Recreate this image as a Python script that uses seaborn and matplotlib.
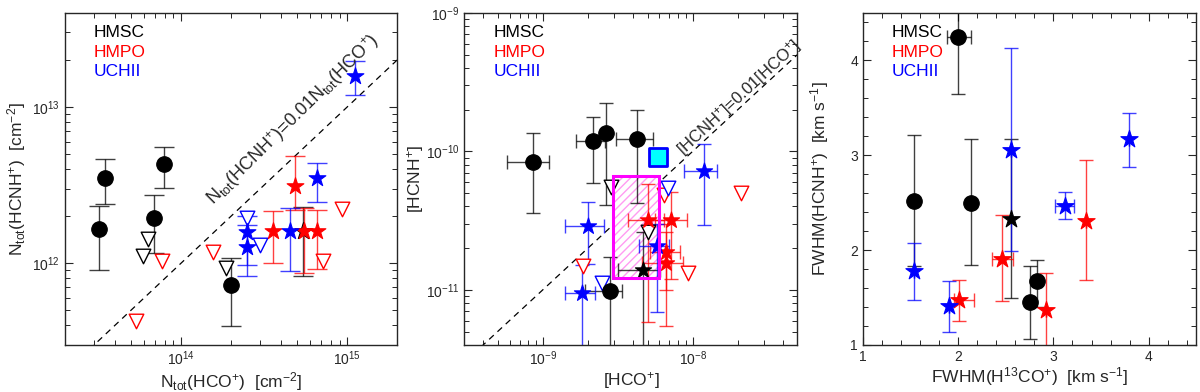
import numpy as np
import pandas as pd
import seaborn as sns
import matplotlib
matplotlib.use('Agg')
import matplotlib.pyplot as plt
from matplotlib.patches import Rectangle
from matplotlib.ticker import MultipleLocator, FixedLocator, NullFormatter

sns.set_style('ticks')
plt.rcParams['font.family'] = ['Liberation Sans', 'DejaVu Sans']
plt.rcParams['mathtext.fontset'] = 'custom'
plt.rcParams['mathtext.rm'] = 'Liberation Sans'
plt.rcParams['mathtext.it'] = 'Liberation Sans:italic'
plt.rcParams['mathtext.default'] = 'regular'

#---------------------------- panel 1 : column densities ----------------------------#
p1_hmsc_x = [3.5e13, 3.2e13, 7.9e13, 6.9e13, 2.0e14]
p1_hmsc_y = [3.5e12, 1.65e12, 4.3e12, 1.96e12, 7.3e11]
p1_hmsc_ylo = [2.38e12, 9.1e11, 3.05e12, 1.17e12, 3.98e11]
p1_hmsc_yhi = [4.67e12, 2.34e12, 5.56e12, 2.75e12, 1.08e12]
p1_hmsc_star_x = [5.4e14]
p1_hmsc_star_y = [1.6e12]
p1_hmsc_star_ylo = [8.3e11]
p1_hmsc_star_yhi = [2.3e12]
p1_hmsc_lim_x = [6.3e13, 5.9e13, 1.87e14]
p1_hmsc_lim_y = [1.42e12, 1.12e12, 9.3e11]

p1_hmpo_x = [4.86e14, 3.6e14, 5.5e14, 6.6e14]
p1_hmpo_y = [3.1e12, 1.6e12, 1.6e12, 1.6e12]
p1_hmpo_ylo = [2.2e12, 1.0e12, 8.6e11, 9.2e11]
p1_hmpo_yhi = [4.87e12, 2.15e12, 2.27e12, 2.2e12]
p1_hmpo_lim_x = [9.3e14, 7.2e14, 7.7e13, 1.56e14, 5.4e13]
p1_hmpo_lim_y = [2.24e12, 1.04e12, 1.03e12, 1.18e12, 4.3e11]

p1_uchii_x = [1.12e15, 6.6e14, 2.5e14, 2.5e14, 4.55e14]
p1_uchii_y = [1.57e13, 3.53e12, 1.58e12, 1.28e12, 1.6e12]
p1_uchii_ylo = [1.19e13, 2.48e12, 9.8e11, 8.3e11, 8.9e11]
p1_uchii_yhi = [1.96e13, 4.4e12, 1.75e12, 2.0e12, 2.27e12]
p1_uchii_lim_x = [2.5e14, 3.0e14]
p1_uchii_lim_y = [1.96e12, 1.3e12]

#---------------------------- panel 2 : abundances ----------------------------#
p2_hmsc_x = [8.6e-10, 2.17e-9, 2.65e-9, 4.27e-9, 2.8e-9]
p2_hmsc_y = [8.35e-11, 1.18e-10, 1.35e-10, 1.22e-10, 9.8e-12]
p2_hmsc_xlo = [5.8e-10, 1.66e-9, 2.65e-9, 3.09e-9, 1.9e-9]
p2_hmsc_xhi = [1.1e-9, 2.6e-9, 2.65e-9, 5.47e-9, 3.4e-9]
p2_hmsc_ylo = [3.6e-11, 5.9e-11, 4.1e-11, 4.26e-11, 3e-12]
p2_hmsc_yhi = [1.35e-10, 1.78e-10, 2.24e-10, 2.0e-10, 1.72e-11]
p2_hmsc_star_x = [4.69e-9]
p2_hmsc_star_y = [1.39e-11]
p2_hmsc_star_xlo = [3.18e-9]
p2_hmsc_star_xhi = [6.1e-9]
p2_hmsc_star_ylo = [3e-12]
p2_hmsc_star_yhi = [2.6e-11]
p2_hmsc_lim_x = [2.86e-9, 5.07e-9]
p2_hmsc_lim_y = [5.5e-11, 2.6e-11]

p2_hmpo_x = [5.0e-9, 7.2e-9, 6.6e-9, 6.6e-9]
p2_hmpo_y = [3.2e-11, 3.2e-11, 1.87e-11, 1.56e-11]
p2_hmpo_xlo = [3.7e-9, 5.6e-9, 5.2e-9, 4.6e-9]
p2_hmpo_xhi = [6.4e-9, 9.1e-9, 8.2e-9, 8.6e-9]
p2_hmpo_ylo = [5.9e-12, 1.2e-11, 1.0e-11, 5.5e-12]
p2_hmpo_yhi = [5.8e-11, 5.1e-11, 3.0e-11, 2.6e-11]
p2_hmpo_lim_x = [1.85e-9, 9.25e-9, 2.1e-8, 6.4e-9]
p2_hmpo_lim_y = [1.48e-11, 1.32e-11, 5.0e-11, 4.85e-11]

p2_uchii_x = [1.19e-8, 2.0e-9, 1.83e-9, 5.8e-9]
p2_uchii_y = [7.2e-11, 2.9e-11, 9.5e-12, 2.06e-11]
p2_uchii_xlo = [8.8e-9, 1.4e-9, 1.4e-9, 4.4e-9]
p2_uchii_xhi = [1.45e-8, 2.57e-9, 2.23e-9, 7.0e-9]
p2_uchii_ylo = [2.96e-11, 1.53e-11, 3e-12, 6.9e-12]
p2_uchii_yhi = [1.14e-10, 4.3e-11, 1.5e-11, 3.0e-11]
p2_uchii_lim_x = [2.49e-9, 6.8e-9]
p2_uchii_lim_y = [1.12e-11, 5.4e-11]

p2_square_x = [5.9e-9]
p2_square_y = [9.06e-11]
p2_box_x = [2.95e-9, 6.0e-9]
p2_box_y = [1.22e-11, 6.6e-11]

#---------------------------- panel 3 : line widths ----------------------------#
p3_hmsc_x = [2.0, 1.54, 2.13, 2.75, 2.83]
p3_hmsc_y = [4.25, 2.52, 2.5, 1.45, 1.67]
p3_hmsc_xlo = [1.88, 1.51, 2.13, 2.75, 2.83]
p3_hmsc_xhi = [2.13, 1.57, 2.13, 2.75, 2.83]
p3_hmsc_ylo = [3.65, 1.83, 1.84, 1.06, 1.4]
p3_hmsc_yhi = [4.6, 3.21, 3.17, 1.83, 1.9]
p3_hmsc_star_x = [2.56]
p3_hmsc_star_y = [2.33]
p3_hmsc_star_ylo = [1.5]
p3_hmsc_star_yhi = [3.17]

p3_hmpo_x = [2.01, 2.46, 2.92, 3.34]
p3_hmpo_y = [1.47, 1.91, 1.37, 2.31]
p3_hmpo_xlo = [1.96, 2.36, 2.92, 3.34]
p3_hmpo_xhi = [2.17, 2.58, 2.92, 3.34]
p3_hmpo_ylo = [1.25, 1.46, 0.9, 1.68]
p3_hmpo_yhi = [1.69, 2.37, 1.76, 2.95]

p3_uchii_x = [2.56, 1.54, 1.9, 3.12, 3.79]
p3_uchii_y = [3.05, 1.78, 1.41, 2.46, 3.17]
p3_uchii_xlo = [2.56, 1.54, 1.9, 3.02, 3.79]
p3_uchii_xhi = [2.56, 1.54, 1.9, 3.22, 3.79]
p3_uchii_ylo = [1.99, 1.47, 1.14, 2.33, 2.88]
p3_uchii_yhi = [4.13, 2.08, 1.67, 2.61, 3.45]

group_colors = {'HMSC': 'black', 'HMPO': 'red', 'UCHII': 'blue'}


def errbars(ax, x, y, ylo, yhi, color, xlo=None, xhi=None, capsize=5):
    x = np.array(x); y = np.array(y)
    yerr = [y - np.array(ylo), np.array(yhi) - y]
    xerr = None
    if xlo is not None:
        xerr = [x - np.array(xlo), np.array(xhi) - x]
    ax.errorbar(x, y, yerr=yerr, xerr=xerr, fmt='none', ecolor=color,
                elinewidth=1.0, capsize=capsize, capthick=1.0, alpha=0.75, zorder=2)


def points(ax, x, y, color, marker, size, filled=True, edge=None, zorder=3):
    df = pd.DataFrame({'x': x, 'y': y})
    if filled:
        sns.scatterplot(data=df, x='x', y='y', ax=ax, marker=marker, s=size,
                        color=color, edgecolor=edge if edge else color,
                        linewidth=0.8, zorder=zorder, legend=False)
    else:
        sns.scatterplot(data=df, x='x', y='y', ax=ax, marker=marker, s=size,
                        facecolor='white', edgecolor=color, linewidth=1.0,
                        zorder=zorder, legend=False)


def log_minor(lo, hi):
    # 2..9 x 10^n between the axis limits
    e0, e1 = int(np.floor(np.log10(lo))), int(np.ceil(np.log10(hi)))
    locs = [k * 10.0 ** e for e in range(e0, e1 + 1) for k in range(2, 10)]
    return [v for v in locs if lo <= v <= hi]


def set_log_minor(ax):
    ax.xaxis.set_minor_locator(FixedLocator(log_minor(*ax.get_xlim())))
    ax.yaxis.set_minor_locator(FixedLocator(log_minor(*ax.get_ylim())))
    ax.xaxis.set_minor_formatter(NullFormatter())
    ax.yaxis.set_minor_formatter(NullFormatter())
    ax.tick_params(which='minor', direction='in', top=True, right=True,
                   bottom=True, left=True, length=3.5, width=0.7)


def style_axis(ax, log=False):
    if log:
        set_log_minor(ax)
    ax.tick_params(which='both', direction='in', top=True, right=True,
                   labelsize=10, width=0.8)
    ax.tick_params(which='major', length=6)
    ax.tick_params(which='minor', length=3.5, width=0.7)
    for sp in ax.spines.values():
        sp.set_linewidth(1.0)
    ax.set_xlabel('')
    ax.set_ylabel('')


def group_labels(ax):
    for i, (name, col) in enumerate(group_colors.items()):
        ax.text(0.087, 0.94 - 0.058 * i, name, color=col, fontsize=12.5,
                transform=ax.transAxes, ha='left', va='center')


def line_label(ax, text, xc, yc, slope_x, size, extra=0):
    ax.figure.canvas.draw()
    p = ax.transData.transform([[slope_x[0], slope_x[0] * 0.01], [slope_x[1], slope_x[1] * 0.01]])
    ang = np.degrees(np.arctan2(p[1, 1] - p[0, 1], p[1, 0] - p[0, 0])) + extra
    ax.text(xc, yc, text, rotation=ang, rotation_mode='anchor', ha='center',
            va='center', fontsize=size)


fig = plt.figure(figsize=(12, 3.92), dpi=100)
ax1 = fig.add_axes([0.054, 0.12, 0.277, 0.847])
ax2 = fig.add_axes([0.387, 0.12, 0.2775, 0.847])
ax3 = fig.add_axes([0.719, 0.12, 0.278, 0.847])

#---- panel 1 ----#
ax1.set_xscale('log'); ax1.set_yscale('log')
errbars(ax1, p1_hmsc_x, p1_hmsc_y, p1_hmsc_ylo, p1_hmsc_yhi, 'black', capsize=7)
errbars(ax1, p1_hmsc_star_x, p1_hmsc_star_y, p1_hmsc_star_ylo, p1_hmsc_star_yhi, 'black', capsize=7)
errbars(ax1, p1_hmpo_x, p1_hmpo_y, p1_hmpo_ylo, p1_hmpo_yhi, 'red', capsize=7)
errbars(ax1, p1_uchii_x, p1_uchii_y, p1_uchii_ylo, p1_uchii_yhi, 'blue', capsize=7)
points(ax1, p1_hmsc_lim_x, p1_hmsc_lim_y, 'black', 'v', 110, filled=False)
points(ax1, p1_hmpo_lim_x, p1_hmpo_lim_y, 'red', 'v', 110, filled=False)
points(ax1, p1_uchii_lim_x, p1_uchii_lim_y, 'blue', 'v', 110, filled=False)
points(ax1, p1_hmsc_x, p1_hmsc_y, 'black', 'o', 125)
points(ax1, p1_hmsc_star_x, p1_hmsc_star_y, 'black', '*', 160)
points(ax1, p1_hmpo_x, p1_hmpo_y, 'red', '*', 160)
points(ax1, p1_uchii_x, p1_uchii_y, 'blue', '*', 160)
ax1.set_xlim(2e13, 2e15)
ax1.set_ylim(3e11, 4e13)
xl = np.array(ax1.get_xlim())
ax1.plot(xl, 0.01 * xl, ls=(0, (5, 4)), color='black', lw=0.9, zorder=1)
ax1.set_xticks([1e14, 1e15])
ax1.set_yticks([1e12, 1e13])
ax1.set_xlim(2e13, 2e15)
ax1.set_ylim(3e11, 4e13)
style_axis(ax1, log=True)
ax1.set_xlabel('N$_{tot}$(HCO$^{+}$)  [cm$^{-2}$]', fontsize=12.5, labelpad=1)
ax1.set_ylabel('N$_{tot}$(HCNH$^{+}$)  [cm$^{-2}$]', fontsize=12.5, labelpad=3)
group_labels(ax1)

#---- panel 2 ----#
ax2.set_xscale('log'); ax2.set_yscale('log')
ax2.add_patch(Rectangle((p2_box_x[0], p2_box_y[0]), p2_box_x[1] - p2_box_x[0],
                        p2_box_y[1] - p2_box_y[0], facecolor='white',
                        edgecolor='#ff9cf2', hatch='////', lw=0, zorder=1.5))
ax2.add_patch(Rectangle((p2_box_x[0], p2_box_y[0]), p2_box_x[1] - p2_box_x[0],
                        p2_box_y[1] - p2_box_y[0], facecolor='none',
                        edgecolor='#ff00ff', lw=2.2, zorder=4))
errbars(ax2, p2_hmsc_x, p2_hmsc_y, p2_hmsc_ylo, p2_hmsc_yhi, 'black', p2_hmsc_xlo, p2_hmsc_xhi)
errbars(ax2, p2_hmsc_star_x, p2_hmsc_star_y, p2_hmsc_star_ylo, p2_hmsc_star_yhi, 'black',
        p2_hmsc_star_xlo, p2_hmsc_star_xhi)
errbars(ax2, p2_hmpo_x, p2_hmpo_y, p2_hmpo_ylo, p2_hmpo_yhi, 'red', p2_hmpo_xlo, p2_hmpo_xhi)
errbars(ax2, p2_uchii_x, p2_uchii_y, p2_uchii_ylo, p2_uchii_yhi, 'blue', p2_uchii_xlo, p2_uchii_xhi)
points(ax2, p2_hmsc_lim_x, p2_hmsc_lim_y, 'black', 'v', 110, filled=False)
points(ax2, p2_hmpo_lim_x, p2_hmpo_lim_y, 'red', 'v', 110, filled=False)
points(ax2, p2_uchii_lim_x, p2_uchii_lim_y, 'blue', 'v', 110, filled=False)
points(ax2, p2_hmsc_x, p2_hmsc_y, 'black', 'o', 125)
points(ax2, p2_hmsc_star_x, p2_hmsc_star_y, 'black', '*', 150)
points(ax2, p2_hmpo_x, p2_hmpo_y, 'red', '*', 150)
points(ax2, p2_uchii_x, p2_uchii_y, 'blue', '*', 150)
df_sq = pd.DataFrame({'x': p2_square_x, 'y': p2_square_y})
sns.scatterplot(data=df_sq, x='x', y='y', ax=ax2, marker='s', s=170, color='cyan',
                edgecolor='blue', linewidth=2, zorder=5, legend=False)
ax2.set_xlim(3e-10, 5e-8)
ax2.set_ylim(4e-12, 1e-9)
xl = np.array(ax2.get_xlim())
ax2.plot(xl, 0.01 * xl, ls=(0, (5, 4)), color='black', lw=0.9, zorder=1)
ax2.set_xticks([1e-9, 1e-8])
ax2.set_yticks([1e-11, 1e-10, 1e-9])
ax2.set_xlim(3e-10, 5e-8)
ax2.set_ylim(4e-12, 1e-9)
style_axis(ax2, log=True)
ax2.set_xlabel('[HCO$^{+}$]', fontsize=12.5, labelpad=1)
ax2.set_ylabel('[HCNH$^{+}$]', fontsize=12.5, labelpad=0)
group_labels(ax2)

#---- panel 3 ----#
errbars(ax3, p3_hmsc_x, p3_hmsc_y, p3_hmsc_ylo, p3_hmsc_yhi, 'black', p3_hmsc_xlo, p3_hmsc_xhi)
errbars(ax3, p3_hmsc_star_x, p3_hmsc_star_y, p3_hmsc_star_ylo, p3_hmsc_star_yhi, 'black')
errbars(ax3, p3_hmpo_x, p3_hmpo_y, p3_hmpo_ylo, p3_hmpo_yhi, 'red', p3_hmpo_xlo, p3_hmpo_xhi)
errbars(ax3, p3_uchii_x, p3_uchii_y, p3_uchii_ylo, p3_uchii_yhi, 'blue', p3_uchii_xlo, p3_uchii_xhi)
points(ax3, p3_hmsc_x, p3_hmsc_y, 'black', 'o', 125)
points(ax3, p3_hmsc_star_x, p3_hmsc_star_y, 'black', '*', 170)
points(ax3, p3_hmpo_x, p3_hmpo_y, 'red', '*', 170)
points(ax3, p3_uchii_x, p3_uchii_y, 'blue', '*', 170)
ax3.set_xlim(1, 4.5)
ax3.set_ylim(1, 4.5)
ax3.xaxis.set_major_locator(MultipleLocator(1))
ax3.xaxis.set_minor_locator(MultipleLocator(0.2))
ax3.yaxis.set_major_locator(MultipleLocator(1))
ax3.yaxis.set_minor_locator(MultipleLocator(0.2))
style_axis(ax3)
ax3.set_xlabel('FWHM(H$^{13}$CO$^{+}$)  [km s$^{-1}$]', fontsize=12.5, labelpad=1)
ax3.set_ylabel('FWHM(HCNH$^{+}$)  [km s$^{-1}$]', fontsize=12.5, labelpad=14)
group_labels(ax3)

line_label(ax1, 'N$_{tot}$(HCNH$^{+}$)=0.01N$_{tot}$(HCO$^{+}$)', 4.7e14, 8.3e12, [1e14, 1e15], 13, extra=1.5)
line_label(ax2, '[HCNH$^{+}$]=0.01[HCO$^{+}$]', 2.05e-8, 2.45e-10, [1e-9, 1e-8], 12)

# put the log minor ticks back right before saving
for a in (ax1, ax2):
    set_log_minor(a)

fig.savefig('out.png', dpi=100)
